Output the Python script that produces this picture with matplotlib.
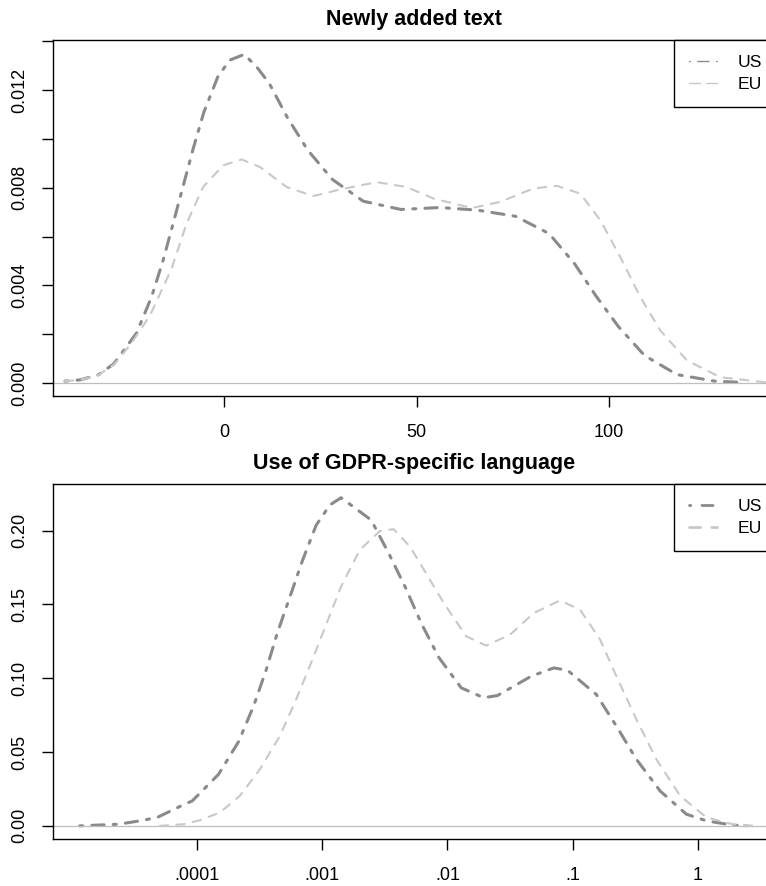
import matplotlib
matplotlib.use('Agg')
import matplotlib.pyplot as plt
from matplotlib.lines import Line2D

plt.rcParams['font.family'] = ['Liberation Sans', 'DejaVu Sans']

# panel 1: newly added text (density)
x_us1 = [-41.4, -37.5, -32.7, -28.7, -22.8, -18.9, -15.9, -13.3, -10.7, -8.1, -5.3, -1.6, 1.5, 5.2, 8.4,
         11.7, 16.4, 21.7, 28.1, 36.1, 45.9, 56.1, 65.9, 75.7, 84.4, 91.0, 96.6, 102.4, 109.2, 117.6,
         127.4, 134.1]
y_us1 = [0.00007, 0.00012, 0.00033, 0.00078, 0.00204, 0.00352, 0.00502, 0.00653, 0.00806, 0.00959,
         0.0111, 0.01258, 0.01324, 0.01347, 0.01296, 0.01228, 0.01088, 0.00954, 0.00834, 0.00745,
         0.00711, 0.00719, 0.00708, 0.00683, 0.00612, 0.00489, 0.00356, 0.00231, 0.00112, 0.00034,
         0.00007, 0.00002]
x_eu1 = [-41.4, -37.5, -32.7, -28.7, -24.0, -19.3, -13.7, -9.8, -5.5, -0.3, 4.5, 9.3, 16.2, 23.1, 30.1,
         39.6, 47.4, 54.3, 64.3, 71.7, 80.3, 86.4, 92.5, 97.7, 102.9, 108.1, 113.3, 120.2, 128.9, 140.8]
y_eu1 = [0.00007, 0.00012, 0.00032, 0.00074, 0.00165, 0.00276, 0.00468, 0.00653, 0.00803, 0.00892,
         0.00916, 0.00885, 0.00803, 0.00766, 0.00793, 0.00823, 0.00803, 0.00756, 0.00717, 0.00742,
         0.00797, 0.00808, 0.00776, 0.00667, 0.00516, 0.00352, 0.00215, 0.00092, 0.00023, 0.00002]

# panel 2: GDPR-specific language, x in log10 units
x_us2 = [-4.94, -4.63, -4.46, -4.32, -4.14, -4.04, -3.83, -3.67, -3.55, -3.45, -3.36, -3.26, -3.16,
         -3.05, -2.94, -2.85, -2.61, -2.47, -2.34, -2.21, -2.07, -1.89, -1.71, -1.60, -1.33, -1.15,
         -1.04, -0.81, -0.65, -0.49, -0.30, -0.09, 0.07, 0.28, 0.39]
y_us2 = [0.0, 0.0011, 0.0034, 0.0057, 0.0131, 0.0169, 0.0349, 0.0570, 0.0811, 0.1054, 0.1307, 0.155,
         0.1795, 0.2036, 0.2174, 0.2223, 0.2072, 0.1847, 0.1622, 0.1374, 0.1142, 0.0935, 0.0868,
         0.0883, 0.1014, 0.107, 0.1054, 0.089, 0.0676, 0.0451, 0.0236, 0.0079, 0.0034, 0.0005, 0.0]
x_eu2 = [-4.30, -4.11, -3.98, -3.82, -3.66, -3.50, -3.34, -3.21, -3.09, -2.97, -2.85, -2.70, -2.54,
         -2.43, -2.30, -2.22, -2.03, -1.85, -1.69, -1.50, -1.31, -1.10, -0.94, -0.78, -0.65, -0.49,
         -0.33, -0.14, 0.07, 0.28, 0.46]
y_eu2 = [0.0, 0.0011, 0.0038, 0.009, 0.0203, 0.0383, 0.0608, 0.0856, 0.1104, 0.1363, 0.1622, 0.187,
         0.1998, 0.201, 0.1892, 0.178, 0.151, 0.1284, 0.1221, 0.1295, 0.1442, 0.1527, 0.1464, 0.1262,
         0.1014, 0.0721, 0.0451, 0.0203, 0.0057, 0.0011, 0.0]

xticks1 = [0, 50, 100]
yticks1 = [0.0, 0.002, 0.004, 0.006, 0.008, 0.010, 0.012, 0.014]
ylabels1 = ['0.000', '', '0.004', '', '0.008', '', '0.012', '']
xticks2 = [-4, -3, -2, -1, 0]
xlabels2 = ['.0001', '.001', '.01', '.1', '1']
yticks2 = [0.0, 0.05, 0.10, 0.15, 0.20]
ylabels2 = ['0.00', '0.05', '0.10', '0.15', '0.20']

US_COL = '#8a8a8a'
EU_COL = '#c8c8c8'
W, H = 766, 886

fig = plt.figure(figsize=(W / 100, H / 100), dpi=100)


def panel(top, bottom, xs_us, ys_us, xs_eu, ys_eu, xlim, ylim, title, leg_lw):
    ax = fig.add_axes([53 / W, 1 - bottom / H, 722 / W, (bottom - top) / H])
    ax.plot(xs_us, ys_us, color=US_COL, lw=2.2, dashes=(1, 3, 4, 3), dash_capstyle='round',
            solid_joinstyle='round')
    ax.axhline(0, color='#bebebe', lw=0.9)
    ax.plot(xs_eu, ys_eu, color=EU_COL, lw=1.5, dashes=(4, 4), dash_capstyle='round')
    ax.set_xlim(*xlim)
    ax.set_ylim(*ylim)
    for s in ax.spines.values():
        s.set_linewidth(1.0)
    ax.tick_params(axis='x', direction='out', length=8, width=1.0, labelsize=13, pad=12)
    ax.tick_params(axis='y', direction='out', length=8, width=1.0, labelsize=13, pad=10)
    ax.set_title(title, fontsize=15.5, fontweight='bold', pad=11)
    if leg_lw < 2:
        hs = [Line2D([], [], color=US_COL, lw=leg_lw, dashes=(0.5, 5.5, 8, 5.5), dash_capstyle='round'),
              Line2D([], [], color=EU_COL, lw=leg_lw, dashes=(8, 4.5), dash_capstyle='round')]
    else:
        hs = [Line2D([], [], color=US_COL, lw=leg_lw, dashes=(0.5, 4, 4, 3), dash_capstyle='round'),
              Line2D([], [], color=EU_COL, lw=leg_lw, dashes=(4, 4), dash_capstyle='round')]
    leg = ax.legend(hs, ['US', 'EU'], loc='upper left', bbox_to_anchor=(674 / W, 1 - top / H),
                    bbox_transform=fig.transFigure, fontsize=12.6, frameon=True, fancybox=False,
                    borderpad=0.85, labelspacing=0.4, handlelength=1.6, handletextpad=1.2,
                    borderaxespad=0)
    leg.get_frame().set_edgecolor('black')
    leg.get_frame().set_linewidth(1.0)
    leg.get_frame().set_alpha(1)
    return ax


ax1 = panel(40, 396, x_us1, y_us1, x_eu1, y_eu1, (-44.5, 143.1), (-0.00054, 0.01406),
            'Newly added text', 1.0)
ax1.set_xticks(xticks1)
ax1.set_yticks(yticks1)
ax1.set_yticklabels(ylabels1, rotation=90, va='center')

ax2 = panel(484, 839, x_us2, y_us2, x_eu2, y_eu2, (-5.153, 0.618), (-0.0089, 0.2316),
            'Use of GDPR-specific language', 2.0)
ax2.set_xticks(xticks2)
ax2.set_xticklabels(xlabels2)
ax2.set_yticks(yticks2)
ax2.set_yticklabels(ylabels2, rotation=90, va='center')

fig.savefig('out.png', dpi=100)
